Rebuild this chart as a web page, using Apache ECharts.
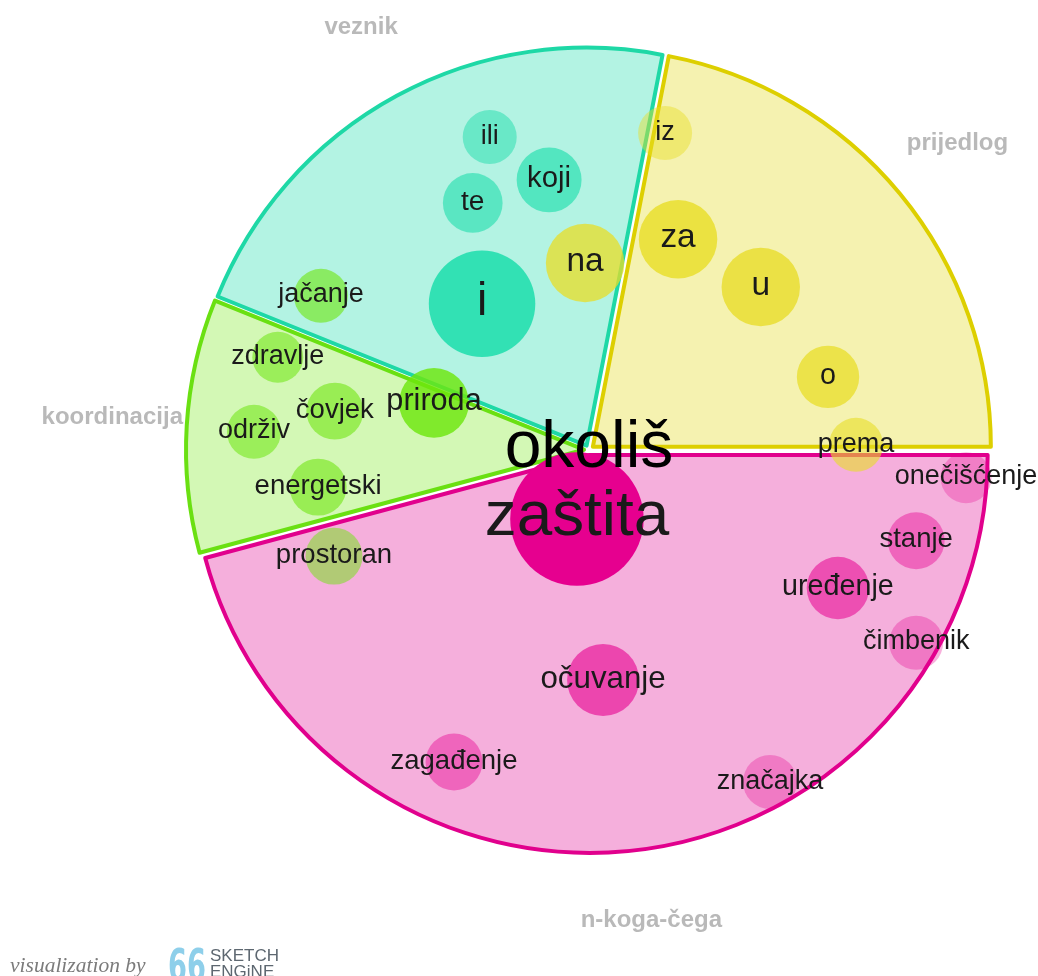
<!DOCTYPE html>
<html><head><meta charset="utf-8">
<script src="https://cdn.jsdelivr.net/npm/echarts@6/dist/echarts.min.js"></script>
<style>html,body{margin:0;padding:0;background:#fff}#c{width:1038px;height:976px}</style>
</head><body><div id="c"></div>
<script>
// ---- data ----
const headword = 'okoliš';
const relations = ['n-koga-čega', 'koordinacija', 'veznik', 'prijedlog'];
const relationSpan = [165, 37, 79, 79];

const words = ['i', 'koji', 'te', 'ili',
  'na', 'za', 'u', 'o', 'iz', 'prema',
  'priroda', 'čovjek', 'energetski', 'zdravlje', 'održiv', 'jačanje', 'prostoran',
  'zaštita', 'očuvanje', 'uređenje', 'stanje', 'zagađenje', 'čimbenik', 'značajka', 'onečišćenje'];
const wordRelation = ['veznik', 'veznik', 'veznik', 'veznik',
  'prijedlog', 'prijedlog', 'prijedlog', 'prijedlog', 'prijedlog', 'prijedlog',
  'koordinacija', 'koordinacija', 'koordinacija', 'koordinacija', 'koordinacija', 'koordinacija', 'koordinacija',
  'n-koga-čega', 'n-koga-čega', 'n-koga-čega', 'n-koga-čega', 'n-koga-čega', 'n-koga-čega', 'n-koga-čega', 'n-koga-čega'];
const wordAngle = [126.2, 98.4, 115.2, 107.6,
  91.2, 67.1, 43.5, 17.0, 76.5, 1.1,
  163.1, 171.3, 187.8, 163.4, 176.9, 150.1, 202.6,
  260.1, 273.5, 331.0, 344.5, 246.6, 329.5, 298.6, 355.8];
const wordDistance = [0.455, 0.686, 0.686, 0.825,
  0.470, 0.575, 0.595, 0.628, 0.819, 0.671,
  0.407, 0.646, 0.687, 0.816, 0.843, 0.777, 0.694,
  0.176, 0.579, 0.715, 0.853, 0.854, 0.954, 0.950, 0.950];
const wordFreq = [35, 13, 11, 9,
  19, 19, 19, 12, 9, 9,
  15, 10, 10, 8, 9, 9, 10,
  55, 16, 12, 10, 10, 9, 9, 8];
const wordScore = [95, 70, 65, 55,
  75, 80, 78, 74, 45, 60,
  82, 58, 58, 55, 55, 60, 50,
  100, 60, 55, 42, 42, 31, 30, 28];

// ---- styles ----
const CX = 589, CY = 450, R = 398;
const fillColor = {'n-koga-čega': '#f5afdc', 'koordinacija': '#d3f8b5', 'veznik': '#b3f3e3', 'prijedlog': '#f5f2b0'};
const borderColor = {'n-koga-čega': '#e1008d', 'koordinacija': '#6ae012', 'veznik': '#1ed8a6', 'prijedlog': '#ddcf00'};
const bubbleBase = {'n-koga-čega': [230, 0, 143], 'koordinacija': [110, 230, 14], 'veznik': [43, 223, 177], 'prijedlog': [232, 221, 38]};
const FONT = '"Liberation Sans", Arial, Helvetica, sans-serif';

function radiusOf(freq) { return 9 * Math.sqrt(freq); }
function fontOf(r) { const d = Math.max(0, r - 27); return 27 + 0.35 * d + 0.0145 * d * d; }

const pieData = relations.map((rel, i) => {
  const st = {color: fillColor[rel], borderColor: borderColor[rel], borderWidth: 4, opacity: 1};
  return {name: rel, value: relationSpan[i], selected: true, itemStyle: st, select: {itemStyle: st}};
});

const bubbleData = words.map((w, i) => {
  const r = radiusOf(wordFreq[i]);
  const c = bubbleBase[wordRelation[i]];
  const fs = fontOf(r);
  return {
    name: w,
    value: [wordDistance[i], wordAngle[i]],
    symbolSize: 2 * r,
    itemStyle: {color: `rgba(${c[0]},${c[1]},${c[2]},${wordScore[i] / 100})`, opacity: 1},
    label: {fontSize: fs, offset: [0, -fs * 0.03]}
  };
});

// category label positions at sector bisectors
let acc = 0;
const relLabelData = relations.map((rel, i) => {
  const mid = -(acc + relationSpan[i] / 2);
  acc += relationSpan[i];
  return {name: rel, value: [1.2, ((mid % 360) + 360) % 360]};
});

const chart = echarts.init(document.getElementById('c'), null, {renderer: 'canvas'});
chart.setOption({
  animation: false,
  backgroundColor: '#ffffff',
  polar: {center: [CX, CY], radius: R * 1.25},
  angleAxis: {type: 'value', min: 0, max: 360, startAngle: 0, clockwise: false, show: false,
    axisLine: {show: false}, axisTick: {show: false}, axisLabel: {show: false}, splitLine: {show: false}},
  radiusAxis: {type: 'value', min: 0, max: 1.25, show: false,
    axisLine: {show: false}, axisTick: {show: false}, axisLabel: {show: false}, splitLine: {show: false}},
  series: [
    {
      type: 'pie', center: [CX, CY], radius: [0, R], startAngle: 0, clockwise: true,
      selectedMode: 'multiple', selectedOffset: 5, silent: true,
      label: {show: false}, labelLine: {show: false}, emphasis: {disabled: true},
      data: pieData, z: 1
    },
    {
      type: 'scatter', coordinateSystem: 'polar', silent: true, z: 3,
      itemStyle: {opacity: 1},
      label: {show: true, position: 'inside', formatter: '{b}', color: '#1a1a1a', fontFamily: FONT},
      emphasis: {disabled: true},
      data: bubbleData
    },
    {
      type: 'scatter', coordinateSystem: 'polar', silent: true, z: 4, symbolSize: 1,
      itemStyle: {color: 'rgba(0,0,0,0)', opacity: 1},
      label: {show: true, position: 'inside', formatter: '{b}', color: '#b9b9b9', fontFamily: FONT, fontWeight: 'bold', fontSize: 24, offset: [0, -3]},
      data: relLabelData
    },
    {
      type: 'scatter', coordinateSystem: 'polar', silent: true, z: 5, symbolSize: 1,
      itemStyle: {color: 'rgba(0,0,0,0)', opacity: 1},
      label: {show: true, position: 'inside', formatter: '{b}', color: '#000', fontFamily: FONT, fontSize: 66, offset: [0, -1]},
      data: [{name: headword, value: [0, 0]}]
    }
  ],
  graphic: [
    {type: 'text', left: 10, top: 955, style: {text: 'visualization by', font: 'italic 21.5px "Liberation Serif", "DejaVu Serif", serif', fill: '#7b7b7b'}},
    {type: 'text', x: 187, y: 970, scaleX: 0.62, style: {text: '66', font: 'bold 44px "DejaVu Sans", sans-serif', fill: '#8ecfea', align: 'center', verticalAlign: 'middle'}},
    {type: 'text', left: 210, top: 948, style: {text: 'SKETCH', font: '17px "Liberation Sans", Arial, sans-serif', fill: '#5d6770'}},
    {type: 'text', left: 210, top: 964, style: {text: 'ENGiNE', font: '17px "Liberation Sans", Arial, sans-serif', fill: '#5d6770'}}
  ]
});
</script>
</body></html>
